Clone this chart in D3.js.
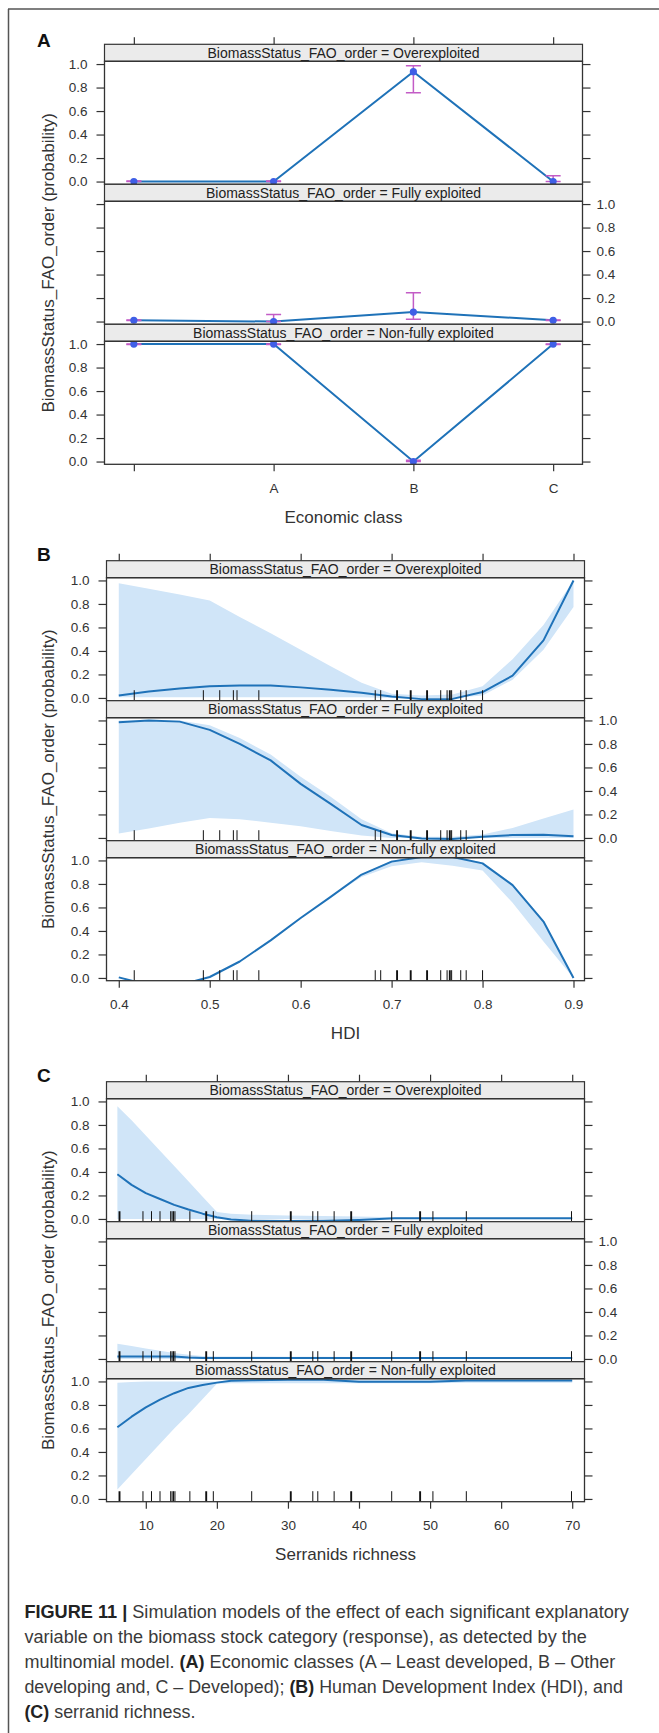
<!DOCTYPE html>
<html>
<head>
<meta charset="utf-8">
<script src="https://cdn.jsdelivr.net/npm/d3@7"></script>
<style>
  body { margin: 0; background: #fff; }
  svg { display: block; }
  text { font-family: "Liberation Sans", Arial, Helvetica, sans-serif; }
</style>
</head>
<body>
<svg id="fig" width="659" height="1733"></svg>
<script>
// ---------- (A) Economic class ----------
const econClasses = ["", "A", "B", "C"];
const econOverFit   = [0.0, 0.0, 0.935, 0.0];
const econOverLow   = [0.0, 0.0, 0.756, 0.0];
const econOverUp    = [0.004, 0.004, 0.986, 0.05];
const econFullyFit  = [0.011, 0.0, 0.081, 0.011];
const econFullyLow  = [0.008, 0.0, 0.02, 0.008];
const econFullyUp   = [0.014, 0.06, 0.246, 0.014];
const econNonFit    = [1.0, 1.0, 0.0, 1.0];
const econNonLow    = [0.996, 0.996, 0.0, 0.996];
const econNonUp     = [1.0, 1.0, 0.012, 1.0];

// ---------- (B) HDI ----------
const hdiGrid     = [0.400, 0.433, 0.467, 0.500, 0.533, 0.567, 0.600, 0.633, 0.667, 0.700, 0.733, 0.767, 0.800, 0.833, 0.867, 0.900];
const hdiOverFit  = [0.02, 0.055, 0.08, 0.10, 0.105, 0.105, 0.09, 0.07, 0.045, 0.012, -0.01, -0.008, 0.05, 0.19, 0.49, 1.0];
const hdiOverLow  = [0.005, 0.005, 0.005, 0.005, 0.005, 0.005, 0.005, 0.005, 0.005, 0.0, 0.0, 0.0, 0.02, 0.155, 0.41, 0.775];
const hdiOverUp   = [0.977, 0.93, 0.88, 0.83, 0.69, 0.55, 0.41, 0.27, 0.13, 0.035, 0.02, 0.03, 0.10, 0.33, 0.62, 1.0];
const hdiFullyFit = [0.985, 1.0, 0.99, 0.92, 0.80, 0.66, 0.46, 0.29, 0.11, 0.025, -0.005, -0.008, 0.01, 0.025, 0.028, 0.015];
const hdiFullyLow = [0.037, 0.08, 0.13, 0.17, 0.16, 0.13, 0.10, 0.06, 0.02, 0.0, 0.0, 0.0, 0.0, 0.0, 0.0, 0.0];
const hdiFullyUp  = [1.0, 1.0, 1.0, 0.96, 0.85, 0.71, 0.52, 0.35, 0.16, 0.04, 0.01, 0.01, 0.03, 0.085, 0.165, 0.243];
const hdiNonFit   = [0.005, -0.06, -0.06, 0.008, 0.14, 0.32, 0.51, 0.69, 0.88, 0.99, 1.03, 1.03, 0.975, 0.79, 0.48, 0.0];
const hdiNonLow   = [0.005, -0.06, -0.06, 0.008, 0.14, 0.32, 0.51, 0.69, 0.86, 0.95, 0.985, 0.955, 0.915, 0.64, 0.31, 0.0];
const hdiNonUp    = [0.005, -0.06, -0.06, 0.008, 0.14, 0.32, 0.51, 0.69, 0.88, 1.0, 1.03, 1.03, 0.985, 0.80, 0.49, 0.0];
const hdiRug      = [0.417, 0.493, 0.511, 0.526, 0.530, 0.554, 0.682, 0.688, 0.706, 0.706, 0.721, 0.721,
                     0.739, 0.739, 0.754, 0.761, 0.764, 0.764, 0.766, 0.776, 0.782, 0.800];
const hdiTicks    = [0.4, 0.5, 0.6, 0.7, 0.8, 0.9];

// ---------- (C) Serranids richness ----------
const richGrid     = [6, 8, 10, 12, 14, 16, 18, 20, 22, 25, 30, 35, 40, 45, 50, 55, 60, 65, 70];
const richOverFit  = [0.38, 0.29, 0.22, 0.17, 0.12, 0.08, 0.045, 0.015, -0.005, -0.015, -0.018, -0.016, -0.008, 0.005, 0.006, 0.006, 0.006, 0.006, 0.006];
const richOverLow  = [0.0, 0.0, 0.0, 0.0, 0.0, 0.0, 0.0, 0.0, 0.0, 0.0, 0.0, 0.0, 0.0, 0.0, 0.0, 0.0, 0.0, 0.0, 0.0];
const richOverUp   = [0.96, 0.84, 0.71, 0.58, 0.45, 0.32, 0.19, 0.06, 0.045, 0.035, 0.03, 0.025, 0.02, 0.015, 0.01, 0.01, 0.01, 0.01, 0.01];
const richFullyFit = [0.02, 0.02, 0.02, 0.02, 0.02, 0.012, 0.008, 0.008, 0.008, 0.008, 0.008, 0.008, 0.008, 0.008, 0.008, 0.008, 0.008, 0.008, 0.008];
const richFullyLow = [0.0, 0.0, 0.0, 0.0, 0.0, 0.0, 0.0, 0.0, 0.0, 0.0, 0.0, 0.0, 0.0, 0.0, 0.0, 0.0, 0.0, 0.0, 0.0];
const richFullyUp  = [0.13, 0.11, 0.09, 0.07, 0.05, 0.035, 0.025, 0.02, 0.02, 0.02, 0.018, 0.018, 0.016, 0.016, 0.015, 0.015, 0.015, 0.015, 0.015];
const richNonFit   = [0.61, 0.70, 0.78, 0.845, 0.90, 0.945, 0.97, 0.99, 1.005, 1.01, 1.015, 1.015, 0.997, 0.997, 0.997, 1.008, 1.008, 1.008, 1.008];
const richNonLow   = [0.08, 0.21, 0.34, 0.47, 0.60, 0.72, 0.85, 0.98, 0.985, 0.985, 0.985, 0.985, 0.985, 0.985, 0.985, 0.99, 0.99, 0.99, 0.99];
const richNonUp    = [0.99, 0.995, 1.0, 1.0, 1.0, 1.0, 1.0, 1.0, 1.01, 1.015, 1.02, 1.02, 1.01, 1.01, 1.01, 1.01, 1.01, 1.01, 1.01];
const richRug      = [6.3, 6.3, 9.6, 10.8, 12, 13.5, 13.7, 13.9, 14.1, 16.2, 18.5, 18.5, 19.5, 24.9, 30.4, 30.4,
                      33.5, 34.2, 36.5, 38.9, 38.9, 44.6, 48.6, 48.6, 50.4, 55.1, 69.9];
const richTicks    = [10, 20, 30, 40, 50, 60, 70];

const stripLabels = [
  "BiomassStatus_FAO_order = Overexploited",
  "BiomassStatus_FAO_order = Fully exploited",
  "BiomassStatus_FAO_order = Non-fully exploited"
];
const probTicks = [0, 0.2, 0.4, 0.6, 0.8, 1.0];

// ---------- drawing ----------
const svg = d3.select("#fig");
const INK = "#333333";
const LINE = "#1f72b8";
const POINT = "#3f5fe6";
const CI = "#c35cc6";
const BAND = "#d0e5f8";
const STRIP_H = 17, PANEL_H = 123, BLOCK = 140;
const yDomain = [-0.0234, 1.0234];
const fmt1 = d3.format(".1f");

// outer figure frame (top and left rules)
svg.append("line").attr("x1", 8).attr("x2", 659).attr("y1", 9).attr("y2", 9)
  .attr("stroke", "#555").attr("stroke-width", 1.5);
svg.append("line").attr("x1", 8.5).attr("x2", 8.5).attr("y1", 9).attr("y2", 1733)
  .attr("stroke", "#555").attr("stroke-width", 1.5);

function styleAxis(sel, fontSize, labelled) {
  sel.attr("color", INK).attr("font-size", fontSize)
     .attr("font-family", "'Liberation Sans', Arial, sans-serif");
  sel.select(".domain").remove();
  sel.selectAll(".tick line").attr("stroke-width", 1.2);
  if (labelled) sel.selectAll(".tick text").attr("fill", INK);
  else sel.selectAll(".tick text").remove();
}

function drawFigure(o) {
  const g = svg.append("g");
  const cx = (o.left + o.right) / 2;

  g.append("text").attr("x", 37).attr("y", o.letterY)
    .attr("font-size", 19).attr("font-weight", "bold").attr("fill", "#111").text(o.letter);

  o.panels.forEach((p, i) => {
    const st = o.top + i * BLOCK, pt = st + STRIP_H, pb = pt + PANEL_H;
    const y = d3.scaleLinear().domain(yDomain).range([pb, pt]);
    const clipId = "clip-" + o.letter + i;
    svg.append("clipPath").attr("id", clipId).append("rect")
      .attr("x", o.left).attr("y", pt).attr("width", o.right - o.left).attr("height", PANEL_H);
    const pg = g.append("g").attr("clip-path", "url(#" + clipId + ")");

    if (o.kind === "cont") {
      const rows = o.grid.map((v, k) => ({ v, fit: p.fit[k], lo: p.lo[k], hi: p.hi[k] }));
      pg.append("path").datum(rows).attr("fill", BAND)
        .attr("d", d3.area().x(d => o.x(d.v)).y0(d => y(d.lo)).y1(d => y(d.hi)));
      pg.append("path").datum(rows).attr("fill", "none").attr("stroke", LINE).attr("stroke-width", 2)
        .attr("stroke-linejoin", "round")
        .attr("d", d3.line().x(d => o.x(d.v)).y(d => y(d.fit)));
      const counts = d3.rollups(o.rug, v => v.length, d => d);
      pg.selectAll(null).data(counts).join("line")
        .attr("x1", d => o.x(d[0])).attr("x2", d => o.x(d[0]))
        .attr("y1", pb).attr("y2", pb - 10.5)
        .attr("stroke", "#111").attr("stroke-width", d => 1 + 0.9 * (d[1] - 1));
    } else {
      const rows = o.cats.map((c, k) => ({ c, fit: p.fit[k], lo: p.lo[k], hi: p.hi[k] }));
      pg.append("path").datum(rows).attr("fill", "none").attr("stroke", LINE).attr("stroke-width", 2)
        .attr("d", d3.line().x(d => o.x(d.c)).y(d => y(d.fit)));
      const ci = pg.append("g").attr("stroke", CI).attr("stroke-width", 1.5);
      rows.forEach(d => {
        const xx = o.x(d.c);
        ci.append("line").attr("x1", xx).attr("x2", xx).attr("y1", y(d.lo)).attr("y2", y(d.hi));
        ci.append("line").attr("x1", xx - 7.5).attr("x2", xx + 7.5).attr("y1", y(d.lo)).attr("y2", y(d.lo));
        ci.append("line").attr("x1", xx - 7.5).attr("x2", xx + 7.5).attr("y1", y(d.hi)).attr("y2", y(d.hi));
      });
      pg.selectAll(null).data(rows).join("circle")
        .attr("cx", d => o.x(d.c)).attr("cy", d => y(d.fit)).attr("r", 3.6).attr("fill", POINT);
    }

    // strip
    g.append("rect").attr("x", o.left).attr("y", st).attr("width", o.right - o.left).attr("height", STRIP_H)
      .attr("fill", "#ebebeb").attr("stroke", INK).attr("stroke-width", 1.2);
    g.append("text").attr("x", cx).attr("y", st + 13.5).attr("text-anchor", "middle")
      .attr("font-size", 14).attr("fill", "#222").text(stripLabels[i]);

    // panel border
    g.append("rect").attr("x", o.left).attr("y", pt).attr("width", o.right - o.left).attr("height", PANEL_H)
      .attr("fill", "none").attr("stroke", INK).attr("stroke-width", 1.3);

    // y axes: labels alternate left / right
    const la = g.append("g").attr("transform", "translate(" + o.left + ",0)")
      .call(d3.axisLeft(y).tickValues(probTicks).tickSize(8).tickPadding(9).tickFormat(fmt1));
    styleAxis(la, 13.5, i !== 1);
    const ra = g.append("g").attr("transform", "translate(" + o.right + ",0)")
      .call(d3.axisRight(y).tickValues(probTicks).tickSize(8).tickPadding(6).tickFormat(fmt1));
    styleAxis(ra, 13.5, i === 1);

    if (i === 2) {
      const xa = g.append("g").attr("transform", "translate(0," + pb + ")")
        .call(o.bottomAxis.tickSize(7).tickPadding(12));
      styleAxis(xa, 13.5, true);
    }
  });

  const ta = g.append("g").attr("transform", "translate(0," + o.top + ")")
    .call(o.topAxis.tickSize(7));
  styleAxis(ta, 13.5, false);

  // axis titles
  g.append("text").attr("x", cx).attr("y", o.top + 478.5).attr("text-anchor", "middle")
    .attr("font-size", 17).attr("fill", INK).text(o.xTitle);
  g.append("text").attr("transform", "translate(48," + (o.top + 218.5) + ") rotate(-90)")
    .attr("text-anchor", "middle").attr("dominant-baseline", "central")
    .attr("font-size", 17).attr("fill", INK).text("BiomassStatus_FAO_order (probability)");
}

// (A)
const xA = d3.scalePoint().domain(econClasses).range([104.5, 582.5]).padding(0.21);
drawFigure({
  kind: "cat", letter: "A", letterY: 46.5, top: 44.3, left: 104.5, right: 582.5,
  x: xA, cats: econClasses, xTitle: "Economic class",
  bottomAxis: d3.axisBottom(xA).tickFormat(d => d),
  topAxis: d3.axisTop(xA),
  panels: [
    { fit: econOverFit, lo: econOverLow, hi: econOverUp },
    { fit: econFullyFit, lo: econFullyLow, hi: econFullyUp },
    { fit: econNonFit, lo: econNonLow, hi: econNonUp }
  ]
});
// the unnamed first class carries no label
svg.selectAll(".tick text").filter(function () { return this.textContent === ""; }).remove();

// (B)
const xB = d3.scaleLinear().domain([0.3865, 0.9121]).range([106.5, 584.5]);
drawFigure({
  kind: "cont", letter: "B", letterY: 560.5, top: 560.7, left: 106.5, right: 584.5,
  x: xB, grid: hdiGrid, rug: hdiRug, xTitle: "HDI",
  bottomAxis: d3.axisBottom(xB).tickValues(hdiTicks).tickFormat(fmt1),
  topAxis: d3.axisTop(xB).tickValues(hdiTicks),
  panels: [
    { fit: hdiOverFit, lo: hdiOverLow, hi: hdiOverUp },
    { fit: hdiFullyFit, lo: hdiFullyLow, hi: hdiFullyUp },
    { fit: hdiNonFit, lo: hdiNonLow, hi: hdiNonUp }
  ]
});

// (C)
const xC = d3.scaleLinear().domain([4.47, 71.73]).range([106.5, 584.5]);
drawFigure({
  kind: "cont", letter: "C", letterY: 1081.5, top: 1081.7, left: 106.5, right: 584.5,
  x: xC, grid: richGrid, rug: richRug, xTitle: "Serranids richness",
  bottomAxis: d3.axisBottom(xC).tickValues(richTicks).tickFormat(d3.format("d")),
  topAxis: d3.axisTop(xC).tickValues(richTicks),
  panels: [
    { fit: richOverFit, lo: richOverLow, hi: richOverUp },
    { fit: richFullyFit, lo: richFullyLow, hi: richFullyUp },
    { fit: richNonFit, lo: richNonLow, hi: richNonUp }
  ]
});

// caption: each line is one text element, narrowed horizontally to its set width
const captionLines = [
  { w: 604.8, parts: [["FIGURE 11 |", true], [" Simulation models of the effect of each significant explanatory", false]] },
  { w: 562.8, parts: [["variable on the biomass stock category (response), as detected by the", false]] },
  { w: 591.4, parts: [["multinomial model. ", false], ["(A)", true], [" Economic classes (A \u2013 Least developed, B \u2013 Other", false]] },
  { w: 599.0, parts: [["developing and, C \u2013 Developed); ", false], ["(B)", true], [" Human Development Index (HDI), and", false]] },
  { w: 171.1, parts: [["(C)", true], [" serranid richness.", false]] }
];
const cap = svg.append("g").attr("font-size", 18.5);
captionLines.forEach((ln, k) => {
  const lg = cap.append("g");
  const t = lg.append("text").attr("x", 0).attr("y", 0).attr("fill", "#3a3a3a")
    .style("white-space", "pre");
  ln.parts.forEach(([s, b]) => {
    t.append("tspan").attr("font-weight", b ? "bold" : null).attr("fill", b ? "#222" : null).text(s);
  });
  const natural = t.node().getComputedTextLength();
  lg.attr("transform", "translate(24.4," + (1618.3 + k * 25) + ") scale(" + (ln.w / natural) + ",1)");
});
</script>
</body>
</html>
